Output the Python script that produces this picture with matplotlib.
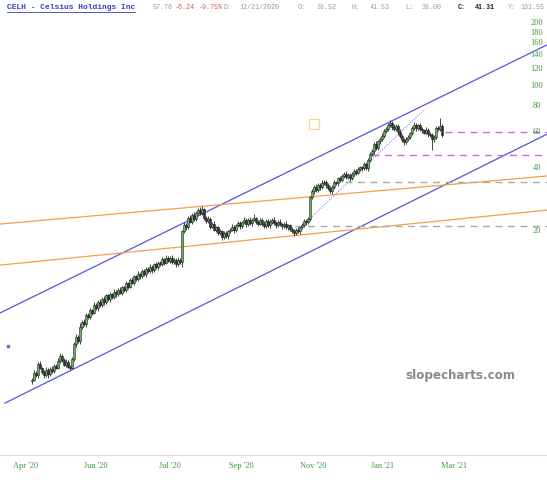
import numpy as np
import matplotlib
matplotlib.use("Agg")
import matplotlib.pyplot as plt
from matplotlib.lines import Line2D

# ---------------- data (daily candles, index = trading day) ----------------
first_open = 3.80
closes = [3.85, 4.15, 4.05, 4.60, 4.40, 4.20, 4.05, 4.30, 4.10, 4.35,
          4.25, 4.50, 4.40, 4.75, 5.00, 4.80, 4.55, 4.70, 4.45, 4.40,
          4.85, 5.70, 6.20, 5.90, 6.90, 7.30, 7.10, 7.90, 7.70, 8.30,
          8.10, 8.80, 8.50, 9.10, 8.80, 9.40, 9.10, 9.80, 9.40, 9.90,
          9.60, 10.2, 9.90, 10.4, 10.1, 10.7, 10.4, 11.2, 10.8, 11.6,
          11.3, 12.1, 11.7, 12.4, 12.1, 12.8, 12.4, 13.1, 12.8, 13.4,
          13.0, 13.8, 13.4, 14.1, 13.8, 14.6, 14.1, 14.9, 14.4, 14.8,
          14.2, 14.5, 13.9, 14.5, 14.2, 20.0, 21.4, 20.8, 23.1, 22.2,
          23.9, 22.8, 24.5, 25.3, 24.4, 25.4, 23.2, 22.4, 22.9, 21.0,
          21.6, 20.3, 20.8, 19.6, 19.9, 18.7, 19.5, 18.9, 19.9, 20.3,
          20.9, 20.2, 21.3, 21.8, 21.1, 22.0, 22.6, 21.5, 22.6, 21.8,
          22.7, 23.0, 22.0, 21.7, 22.6, 21.6, 21.2, 22.3, 21.3, 22.1,
          22.6, 21.8, 21.3, 22.2, 21.5, 21.1, 21.6, 20.9, 21.3, 20.4,
          20.0, 19.6, 20.2, 19.9, 20.8, 21.4, 22.3, 22.0, 22.9, 29.0,
          31.0, 32.6, 31.4, 33.2, 32.6, 34.0, 34.6, 33.2, 32.2, 31.2,
          32.6, 34.3, 33.9, 35.8, 35.2, 36.9, 37.6, 36.2, 37.4, 35.8,
          37.5, 38.9, 38.2, 39.6, 40.5, 40.1, 41.9, 40.0, 43.8, 46.9,
          48.5, 52.5, 50.2, 54.0, 55.6, 57.5, 60.8, 62.0, 64.5, 66.5,
          63.5, 62.0, 64.0, 60.0, 57.5, 55.0, 53.5, 55.3, 57.0, 59.0,
          62.5, 65.0, 62.8, 64.5, 62.0, 61.0, 59.5, 61.5, 58.5, 58.0,
          55.5, 56.5, 62.5, 61.8, 64.0, 57.76]
# wick lengths beyond the candle body, in percent
upper_wick_pct = [2, 3, 2, 2, 3, 1, 2, 3, 2, 2,
                  3, 2, 2, 3, 4, 2, 2, 3, 2, 2,
                  2, 3, 3, 2, 4, 2, 3, 2, 2, 3,
                  2, 3, 2, 2, 3, 2, 3, 2, 2, 3,
                  2, 3, 2, 2, 3, 2, 2, 3, 2, 2,
                  3, 2, 2, 3, 2, 2, 3, 2, 2, 3,
                  2, 2, 3, 2, 2, 3, 2, 3, 2, 2,
                  3, 2, 2, 3, 2, 1, 3, 2, 2, 3,
                  2, 3, 2, 2, 3, 4, 2, 2, 3, 2,
                  2, 3, 2, 2, 3, 2, 2, 3, 2, 2,
                  3, 2, 2, 3, 2, 2, 3, 2, 2, 3,
                  2, 5, 2, 3, 2, 2, 3, 2, 2, 3,
                  2, 3, 2, 2, 3, 2, 2, 3, 2, 2,
                  3, 2, 2, 3, 2, 2, 3, 2, 2, 2,
                  3, 2, 3, 2, 2, 3, 2, 2, 3, 2,
                  2, 3, 2, 2, 3, 2, 2, 3, 2, 2,
                  3, 2, 2, 3, 2, 2, 3, 2, 2, 2,
                  2, 2, 3, 2, 2, 3, 2, 2, 3, 3,
                  2, 3, 2, 2, 3, 2, 2, 3, 2, 2,
                  2, 3, 2, 2, 3, 2, 2, 3, 2, 2,
                  2, 3, 2, 2, 9, 2]
lower_wick_pct = [3, 2, 2, 3, 2, 2, 3, 2, 4, 2,
                  2, 3, 2, 2, 3, 2, 2, 3, 2, 3,
                  2, 2, 3, 2, 3, 2, 2, 3, 2, 2,
                  3, 2, 2, 3, 2, 2, 3, 2, 2, 3,
                  2, 2, 3, 2, 2, 3, 2, 2, 3, 2,
                  2, 3, 2, 2, 3, 2, 2, 3, 2, 2,
                  3, 2, 2, 3, 2, 2, 3, 2, 2, 3,
                  2, 2, 3, 2, 2, 6, 2, 3, 2, 2,
                  3, 2, 2, 3, 2, 2, 3, 2, 2, 3,
                  2, 2, 3, 2, 2, 3, 2, 2, 3, 2,
                  2, 3, 2, 2, 3, 2, 2, 3, 2, 2,
                  3, 2, 2, 3, 2, 2, 3, 2, 2, 3,
                  2, 2, 3, 2, 2, 3, 2, 2, 3, 2,
                  2, 3, 2, 2, 3, 2, 2, 3, 2, 2,
                  2, 3, 2, 2, 3, 2, 2, 3, 2, 2,
                  3, 2, 2, 3, 2, 2, 3, 2, 2, 3,
                  2, 2, 3, 2, 2, 3, 2, 2, 3, 2,
                  2, 3, 2, 2, 3, 2, 2, 3, 2, 2,
                  3, 2, 2, 3, 2, 2, 3, 2, 2, 3,
                  2, 2, 3, 2, 2, 3, 2, 2, 3, 2,
                  12, 3, 2, 2, 2, 2]
opens = [first_open] + closes[:-1]

# drawn trend lines: (start index, start price, end index, end price)
channel_upper = (-16, 8.06, 257.5, 157.4)
channel_lower = (-13.5, 2.97, 257.5, 58.5)
orange_upper = (-16, 21.6, 257.5, 36.8)
orange_lower = (-16, 13.7, 257.5, 25.2)
dotted_trend = (132, 19.8, 196, 76.5)
# horizontal levels: (price, start index)
magenta_levels = [(60.0, 206.5), (46.5, 170)]
gray_levels = [(34.4, 156.5), (21.1, 131.5)]

xtick_pos = [-3, 31.75, 69, 104.5, 140.5, 175.5, 211]
xtick_labels = ["Apr '20", "Jun '20", "Jul '20", "Sep '20", "Nov '20", "Jan '21", "Mar '21"]
ytick_vals = [20, 40, 60, 80, 100, 120, 140, 160, 180, 200]

# ---------------- figure ----------------
W, H = 547, 480
fig = plt.figure(figsize=(W / 100, H / 100), dpi=100)
ax = fig.add_axes([0, 25 / H, 1, 437 / H])
ax.set_yscale('log')
ax.set_xlim(-16, 257.5)
ax.set_ylim(1.67, 212)

n = len(closes)
x = np.arange(n)
o = np.array(opens); c = np.array(closes)
top = np.maximum(o, c); bot = np.minimum(o, c)
hi = top * (1 + np.array(upper_wick_pct) / 100.0)
lo = bot * (1 - np.array(lower_wick_pct) / 100.0)
up = c >= o

ax.vlines(x, lo, hi, color='#222222', linewidth=0.6, zorder=3)
body_h = np.maximum(top - bot, 0.004 * c)
ax.bar(x[up], body_h[up], bottom=bot[up], width=0.85, color='#5fb85a',
       edgecolor='#222222', linewidth=0.4, zorder=4)
ax.bar(x[~up], body_h[~up], bottom=bot[~up], width=0.85, color='#333333',
       edgecolor='#222222', linewidth=0.4, zorder=4)

def seg(s, **kw):
    ax.plot([s[0], s[2]], [s[1], s[3]], **kw)

seg(channel_upper, color='#5454e0', linewidth=0.9, zorder=2)
seg(channel_lower, color='#5454e0', linewidth=0.9, zorder=2)
seg(orange_upper, color='#f4a04a', linewidth=0.9, zorder=2)
seg(orange_lower, color='#f4a04a', linewidth=0.9, zorder=2)
seg(dotted_trend, color='#6a6ae8', linewidth=0.7, linestyle=(0, (1, 1.5)), zorder=2)

for p, s in magenta_levels:
    ax.plot([s, 257.5], [p, p], color='#c86ad8', linewidth=1.0,
            linestyle=(0, (5, 4)), zorder=2)
for p, s in gray_levels:
    ax.plot([s, 257.5], [p, p], color='#aaaaaa', linewidth=1.0,
            linestyle=(0, (5, 4)), zorder=2)

# small annotation marks
ax.plot([141], [65.5], marker='s', markersize=6.5, markerfacecolor='none',
        markeredgecolor='#f5d59a', markeredgewidth=0.9, zorder=2)
ax.plot([-12], [5.6], marker='s', markersize=1.8, color='#6a6ad0', zorder=2)

# axes styling
for side in ['top', 'left', 'right']:
    ax.spines[side].set_visible(False)
ax.spines['bottom'].set_color('#dddddd')
ax.spines['bottom'].set_linewidth(0.8)
ax.set_yticks([])
ax.yaxis.set_minor_locator(matplotlib.ticker.NullLocator())
ax.set_xticks(xtick_pos)
ax.set_xticklabels(xtick_labels, family='Liberation Serif', fontsize=6,
                   color='#3a9a3a')
ax.tick_params(axis='x', length=0, pad=5)

ytrans = ax.get_yaxis_transform()
for v in ytick_vals:
    ax.text(537 / W, v, str(v), transform=ytrans, ha='center', va='center',
            family='Liberation Serif', fontsize=6, color='#3a9a3a', zorder=6)

# watermark
fig.text(460.5 / W, 1 - 376 / H, 'slopecharts.com', ha='center', va='center',
         family='DejaVu Sans', fontweight='bold', fontsize=8.6, color='#8a8a8a')

# header
hy = 1 - 7.5 / H
hdr = [
    (6.7, 'CELH - Celsius Holdings Inc', '#3a3ac8', 'bold', 5.7),
    (153, '57.76', '#999999', 'normal', 4.9),
    (175, '-6.24', '#e05050', 'normal', 4.9),
    (199, '-9.75%', '#e05050', 'normal', 4.9),
    (224, 'D:', '#999999', 'normal', 4.9),
    (239, '12/21/2020', '#999999', 'normal', 4.9),
    (298, 'O:', '#999999', 'normal', 4.9),
    (317, '38.52', '#999999', 'normal', 4.9),
    (352, 'H:', '#999999', 'normal', 4.9),
    (370, '41.53', '#999999', 'normal', 4.9),
    (405, 'L:', '#999999', 'normal', 4.9),
    (422, '38.00', '#999999', 'normal', 4.9),
    (458, 'C:', '#222222', 'bold', 4.9),
    (475, '41.31', '#222222', 'bold', 4.9),
    (508, 'Y:', '#999999', 'normal', 4.9),
    (520, '131.55', '#999999', 'normal', 4.9),
]
for xp, t, col, wt, fs in hdr:
    fig.text(xp / W, hy, t, ha='left', va='center', family='Liberation Mono',
             fontsize=fs, color=col, fontweight=wt)
fig.add_artist(Line2D([6.7 / W, 135 / W], [1 - 11.5 / H, 1 - 11.5 / H],
                      color='#3a3ac8', linewidth=0.6))

fig.savefig('out.png', dpi=100)
